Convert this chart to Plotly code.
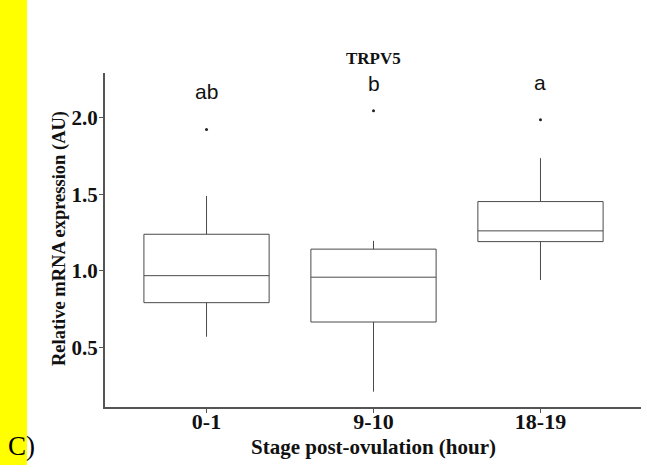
import plotly.graph_objects as go

# ---- data ----
stages = ["0-1", "9-10", "18-19"]
q1_vals = [0.793, 0.667, 1.191]
median_vals = [0.969, 0.959, 1.261]
q3_vals = [1.239, 1.142, 1.452]
lower_whisker = [0.571, 0.213, 0.941]
upper_whisker = [1.489, 1.196, 1.735]
outlier_vals = [1.922, 2.044, 1.985]
sig_letters = ["ab", "b", "a"]
letter_y = [2.168, 2.22, 2.23]
y_ticks = [0.5, 1.0, 1.5, 2.0]
y_tick_text = ["0.5", "1.0", "1.5", "2.0"]

W, H = 647, 473
L, R, T, B = 105, 6, 73, 66
pw, ph = W - L - R, H - T - B

def px_x(px):
    return (px - L) / pw

def px_y(py):
    return (H - B - py) / ph

fig = go.Figure()
fig.add_trace(go.Box(
    x=stages, q1=q1_vals, median=median_vals, q3=q3_vals,
    lowerfence=lower_whisker, upperfence=upper_whisker,
    boxpoints=False, whiskerwidth=0, width=0.75,
    fillcolor="white", line=dict(color="#4a4a4a", width=1),
    showlegend=False, hoverinfo="skip",
))
fig.add_trace(go.Scatter(
    x=stages, y=outlier_vals, mode="markers",
    marker=dict(size=3, color="#222222"), showlegend=False,
))
for s, lt, ly in zip(stages, sig_letters, letter_y):
    fig.add_annotation(x=s, y=ly, text=lt, showarrow=False,
                       font=dict(family="Liberation Sans, Arial", size=21, color="#111"),
                       xanchor="center", yanchor="middle")

serif = "Liberation Serif, Times New Roman, serif"

# yellow bar and panel label
fig.add_shape(type="rect", xref="paper", yref="paper",
              x0=px_x(0), x1=px_x(27), y0=px_y(465), y1=px_y(0),
              fillcolor="#ffff00", line=dict(width=0), layer="below")
fig.add_annotation(xref="paper", yref="paper", x=px_x(6), y=px_y(446),
                   text="C)", showarrow=False, xanchor="left", yanchor="middle",
                   font=dict(family=serif, size=27, color="black"))

# title
fig.add_annotation(xref="paper", yref="paper", x=px_x(373.5), y=px_y(58.5),
                   text="<b>TRPV5</b>", showarrow=False, xanchor="center", yanchor="middle",
                   font=dict(family=serif, size=17, color="#111"))
# axis titles
fig.add_annotation(xref="paper", yref="paper", x=px_x(373), y=px_y(447),
                   text="<b>Stage post-ovulation (hour)</b>", showarrow=False,
                   xanchor="center", yanchor="middle",
                   font=dict(family=serif, size=21, color="#111"))
fig.add_annotation(xref="paper", yref="paper", x=px_x(59), y=px_y(239),
                   text="<b>Relative mRNA expression (AU)</b>", showarrow=False,
                   textangle=-90, xanchor="center", yanchor="middle",
                   font=dict(family=serif, size=18.5, color="#111"))

fig.update_layout(
    width=W, height=H, margin=dict(l=L, r=R, t=T, b=B),
    paper_bgcolor="white", plot_bgcolor="white",
    xaxis=dict(range=[-0.608, 2.602], showgrid=False, zeroline=False,
               showline=True, linecolor="#555", linewidth=2,
               ticks="outside", ticklen=4, tickcolor="#555", tickwidth=1,
               ticklabelstandoff=-10,
               tickfont=dict(family=serif, size=22, color="#111"),
               tickprefix="<b>", ticksuffix="</b>"),
    yaxis=dict(range=[0.113, 2.29], showgrid=False, zeroline=False,
               showline=True, linecolor="#555", linewidth=2,
               ticks="outside", ticklen=4, tickcolor="#555", tickwidth=1,
               ticklabelstandoff=-3,
               tickvals=y_ticks, ticktext=["<b>" + t + "</b>" for t in y_tick_text],
               tickfont=dict(family=serif, size=21, color="#111")),
)

fig.write_html("out.html")
